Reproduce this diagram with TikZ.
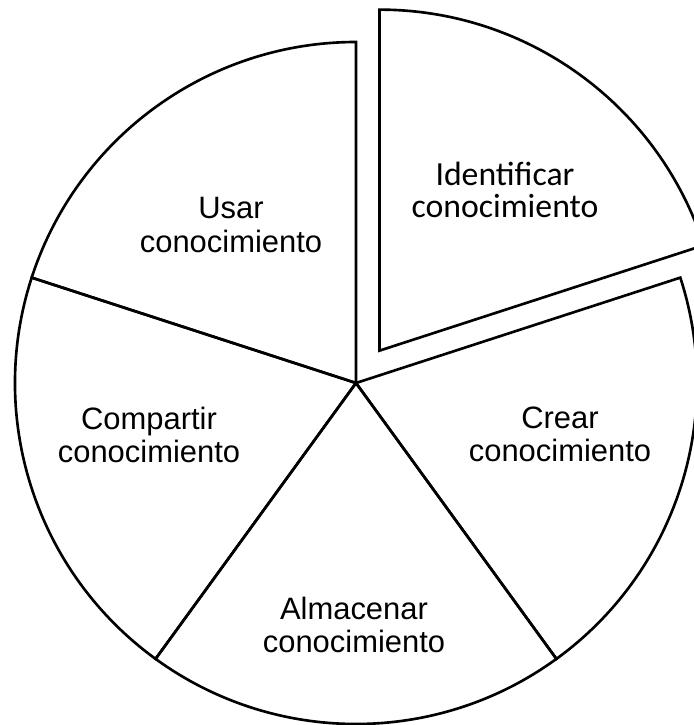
\documentclass[tikz,border=0pt]{standalone}
\usepackage{fontspec}
\setmainfont{Liberation Sans}
\newfontfamily\calibrifont{Carlito}
\usepackage{tikz}
\usepackage{tkz-euclide}

\tikzset{
  slice/.style={line width=1.5pt},
  lblarial/.style={align=center, inner sep=0pt, font=\fontsize{17.6}{18.8}\selectfont},
  lblcalibri/.style={align=center, inner sep=0pt, font=\calibrifont\fontsize{19.2}{18}\selectfont}
}

\begin{document}
\begin{tikzpicture}[x=0.02cm,y=0.02cm]

  \clip (-356,-342) rectangle (338,383);

  \tkzDefPoint(0,0){O}
  \tkzDefShiftPoint[O](90:341){A}
  \tkzDefShiftPoint[O](162:341){B}
  \tkzDefShiftPoint[O](234:341){C}
  \tkzDefShiftPoint[O](306:341){D}

  % pulled-out slice
  \tkzDefShiftPoint[O](54:40){E}
  \tkzDefShiftPoint[E](18:341){F}

  \draw[slice] (O) -- (A) arc[start angle=90, end angle=162, radius=341] -- cycle;
  \draw[slice] (O) -- (B) arc[start angle=162, end angle=234, radius=341] -- cycle;
  \draw[slice] (O) -- (C) arc[start angle=234, end angle=306, radius=341] -- cycle;
  \draw[slice] (O) -- (D) arc[start angle=306, end angle=378, radius=341] -- cycle;
  \draw[slice] (E) -- (F) arc[start angle=18, end angle=90, radius=341] -- cycle;

  \node[lblcalibri] (identificar) at (149,193) {Identificar\\conocimiento};
  \node[lblarial] (usar) at (-125,158) {Usar\\conocimiento};
  \node[lblarial] (compartir) at (-207,-52) {Compartir\\conocimiento};
  \node[lblarial] (almacenar) at (-2,-242) {Almacenar\\conocimiento};
  \node[lblarial] (crear) at (204,-51) {Crear\\conocimiento};

\end{tikzpicture}
\end{document}
